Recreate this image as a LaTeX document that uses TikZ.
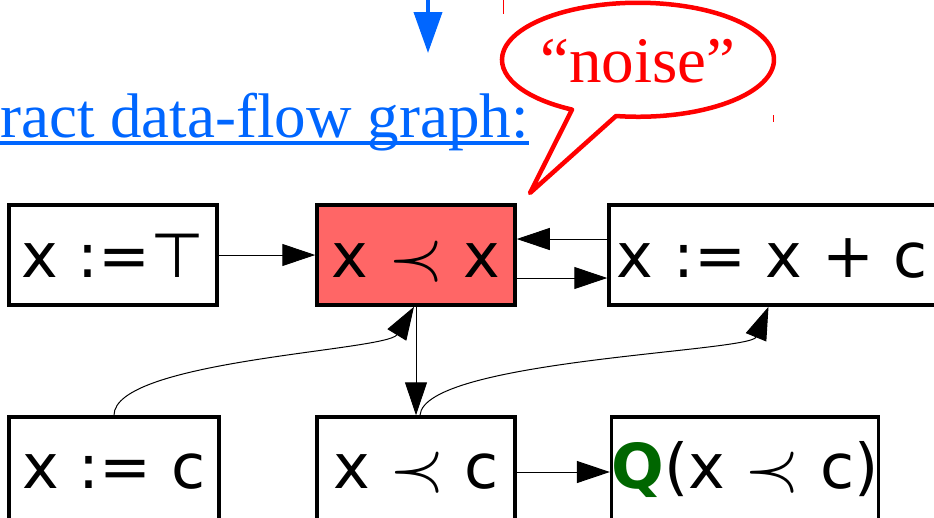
\RequirePackage{fix-cm}
\documentclass[tikz,border=0pt]{standalone}
\usepackage{fontspec}
\usepackage{graphicx}
\setmainfont{Liberation Serif}
\newfontfamily\boxfont{DejaVu Sans}
\usetikzlibrary{arrows.meta}
\definecolor{linkblue}{RGB}{0,102,255}
\definecolor{noisered}{RGB}{255,0,0}
\definecolor{boxred}{RGB}{255,102,102}
\definecolor{qgreen}{RGB}{0,102,0}
\newcommand\precsym{\ensuremath{\vcenter{\hbox{\scalebox{1.15}{$\prec$}}}}}
\begin{document}
\begin{tikzpicture}[x=1pt,y=-1pt,
  stmt/.style={draw=black,line width=3.5pt,fill=white,inner sep=0pt,
    font=\boxfont\fontsize{62}{70}\selectfont,text height=50pt,text depth=6pt,minimum height=100pt},
  stmtlow/.style={stmt,minimum height=110pt,text height=42pt,text depth=10pt},
  flow/.style={line width=1pt,-{Triangle[length=33pt,width=22pt]}},
  bubble/.style={draw=noisered,line width=4.5pt,fill=white,line join=round},
]
\useasboundingbox (0,0) rectangle (934,517);
\clip (0,0) rectangle (934,517);

% blue heading and arrow
\coordinate (btop) at (428,-5);
\coordinate (bend) at (428,53);
\draw[linkblue,line width=4pt,-{Triangle[length=41pt,width=28pt]}] (btop) -- (bend);
\node[anchor=base west,inner sep=0pt,text=linkblue,font=\fontsize{63}{70}\selectfont] (title) at (0,137) {ract data-flow graph:};
\coordinate (ul) at (0,143);
\draw[linkblue,line width=3.5pt] (ul) -- (ul -| title.east);

% speech bubble
\draw[bubble] (616,116) arc[start angle=99.3,end angle=-241,x radius=136,y radius=57] -- (530,193) -- cycle;
\node[text=noisered,inner sep=0pt,font=\fontsize{65}{70}\selectfont,anchor=base] (noise) at (638,82) {“noise”};
\draw[noisered,line width=1pt] (503,0) -- (503,14);
\draw[noisered,line width=1pt] (773,115) -- (773,122);

% boxes
\node[stmt,minimum width=208pt] (top) at (113,255) {x :=⊤};
\node[stmt,minimum width=198pt,fill=boxred] (cmp) at (416,255) {x \precsym{} x};
\node[stmt,minimum width=327pt] (inc) at (772.5,255) {x := x + c};
\node[stmtlow,minimum width=210pt] (init) at (114,472) {x := c};
\node[stmtlow,minimum width=198pt] (cmpc) at (416,472) {x \precsym{} c};
\node[stmtlow,minimum width=264pt] (q) at (745,472) {\textbf{\color{qgreen}Q}(x \precsym{} c)};

% connectors
\draw[flow] (top.east) -- (cmp.west);
\draw[flow] ([yshift=16pt]inc.west) -- ([yshift=16pt]cmp.east);
\draw[flow] ([yshift=-23pt]cmp.east) -- ([yshift=-23pt]inc.west);
\draw[flow] (cmp.south) -- (cmpc.north);
\draw[flow] (init.north) .. controls (114,360) and (387,351) .. ([xshift=-2pt]cmp.south);
\draw[flow] ([xshift=4pt]cmpc.north) .. controls (424,360) and (750,352) .. ([xshift=-4pt]inc.south);
\draw[flow] (cmpc.east) -- (q.west);
\end{tikzpicture}
\end{document}
